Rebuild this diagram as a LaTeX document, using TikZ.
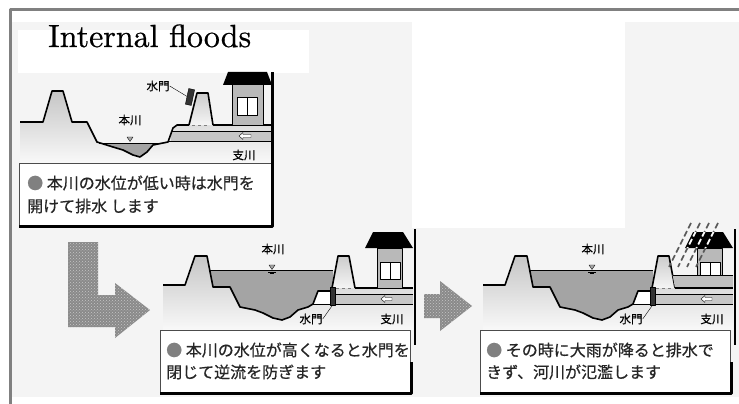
\documentclass[tikz,border=0pt]{standalone}
\usepackage{fontspec}
\usetikzlibrary{patterns}
\newfontfamily\jp{Noto Sans CJK JP}[FakeBold=0.6]
\newfontfamily\titlefont{lmroman10-regular}[Extension=.otf, FakeBold=0.6]

\definecolor{framegray}{HTML}{808080}
\definecolor{paper}{HTML}{F4F4F4}
\definecolor{water}{HTML}{A4A4A4}
\definecolor{arrowgray}{HTML}{8A8A8A}

\newcommand{\highriver}[2]{%
  \shade[top color=gray!45, bottom color=gray!5]
    (163,285) -- (185,285) -- (195,256) -- (207,256) -- (213,287) -- (230,287)
    -- (240,307) -- (255,310) -- (263,313) -- (273,318) -- (282,320) -- (290,317)
    -- (298,310) -- (308,307) -- (313,304) -- (318,291) -- (332,288) -- (413,288)
    -- (413,330) -- (163,330) -- cycle;
  \fill[water] (209,270) -- (333,270) -- (333,291) -- (318,291) -- (313,304) -- (308,307)
    -- (298,310) -- (290,317) -- (282,320) -- (273,318) -- (263,313) -- (255,310)
    -- (240,307) -- (230,287) -- (213,287) -- cycle;
  \draw[thin] (209,270) -- (333,270);
  \fill[white] (313,304) -- (318,291) -- (333,291) -- (333,304) -- cycle;
  \draw[bank] (163,285) -- (185,285) -- (195,256) -- (207,256) -- (213,287) -- (230,287)
    -- (240,307) -- (255,310) -- (263,313) -- (273,318) -- (282,320) -- (290,317)
    -- (298,310) -- (308,307) -- (313,304) -- (318,291) -- (333,291);
  \draw[line width=1pt] (313,304) -- (333,304);
  \shadedraw[top color=gray!40, bottom color=gray!8, bank] (332,288) -- (338,256) -- (349,256) -- (355,288);
  \draw[dashed, thin, gray] (336,288) -- (353,288);
  \draw[bank] (355,288) -- (413,288);
  \fill[gray!45] (335,294) rectangle (413,304);
  \draw[line width=1pt] (335,294) -- (413,294) (335,304) -- (413,304);
  \draw[thin, fill=white] (381,299) -- (385,295.5) -- (385,297.5) -- (392,297.5)
    -- (392,300.5) -- (385,300.5) -- (385,302.5) -- cycle;
  \node[gate, minimum width=5pt, minimum height=18pt] (gate) at (332.5,296) {};
  \fill (373,232) -- (403,232) -- (413,248) -- (365,248) -- cycle;
  \filldraw[fill=gray!55, line width=1pt] (377,248) rectangle (402,288);
  \filldraw[fill=white, line width=1pt] (380,262) rectangle (400,279);
  \draw[line width=1pt] (390,262) -- (390,279);
  \filldraw[thin, fill=gray!70] (269,265) -- (275,265) -- (272,269.5) -- cycle;
  \draw[thin] (268,272) -- (276,272) (270,273.5) -- (274,273.5);
  \node[lbl] (main) at (273,249) {本川};
  \node[lbl] (gatelabel) at (311,319) {水門};
  \node[lbl] (branch) at (392,319) {支川};
  \draw[thin] (gate.south) -- (gatelabel.east);
  \draw[line width=1.5pt] (415,229) -- (415,345);
  \draw[thin, gray!60!black, fill=white] (160,330) rectangle (410,392);
  \draw[line width=3pt] (160,393.5) -- (411.5,393.5) -- (411.5,362);
  \node[note] (noteA) at (166,350) {{\color{gray}●} #1};
  \node[note] (noteB) at (166,372) {#2};
}

\begin{document}
\begin{tikzpicture}[x=1pt, y=-1pt, line join=round,
    bank/.style={line width=1.6pt},
    gate/.style={draw, fill=black!80, inner sep=0pt},
    lbl/.style={inner sep=0pt, font=\jp\fontsize{11.5}{12}\selectfont},
    note/.style={anchor=west, inner sep=0pt, font=\jp\fontsize{16}{17}\selectfont, text=black!85},
    bigarrow/.style={preaction={fill=arrowgray}, pattern=crosshatch dots, pattern color=gray!45},
    rain/.style={line width=1.6pt, dash pattern=on 6pt off 3pt, gray!70!black}]
\useasboundingbox (0,0) rectangle (739,404);
\fill[white] (0,0) rectangle (739,404);
\fill[paper] (12,22) rectangle (739,397);
\fill[white] (412,22) rectangle (625,228);
\draw[framegray, line width=3pt] (10,404) -- (10,10) -- (739,10);

\fill[white] (18,30) rectangle (309,73);
\node[anchor=base west, inner sep=0pt, font=\titlefont\fontsize{32}{40}\selectfont] (title) at (48,47) {Internal floods};

\shade[top color=gray!45, bottom color=gray!5]
  (20,122) -- (43,122) -- (52,91) -- (63,91) -- (72,122) -- (87,122) -- (97,142) -- (113,147)
  -- (123,150) -- (133,155) -- (140,157) -- (147,152) -- (153,145) -- (168,142) -- (173,128)
  -- (177,125) -- (271,125) -- (271,163) -- (20,163) -- cycle;
\fill[water] (99,143) -- (163,143) -- (153,145) -- (147,152) -- (140,157) -- (133,155)
  -- (123,150) -- (113,147) -- cycle;
\draw[thin] (99,143) -- (163,143);
\fill[gray!45] (171,131) rectangle (271,141);
\draw[line width=1pt] (172,131) -- (271,131) (169,141) -- (271,141);
\draw[bank] (20,122) -- (43,122) -- (52,91) -- (63,91) -- (72,122) -- (87,122) -- (97,142)
  -- (113,147) -- (123,150) -- (133,155) -- (140,157) -- (147,152) -- (153,145) -- (168,142)
  -- (173,128) -- (177,125) -- (189,125) (213,125) -- (271,125);
\shadedraw[top color=gray!40, bottom color=gray!8, bank] (189,125) -- (197,93) -- (208,93) -- (213,125);
\draw[dashed, thin, gray] (192,125) -- (210,125);
\draw[thin, fill=white] (239,136) -- (243,132.5) -- (243,134.5) -- (251,134.5)
  -- (251,137.5) -- (243,137.5) -- (243,139.5) -- cycle;
\node[gate, minimum width=6pt, minimum height=16pt, rotate=-12] (gateA) at (190,97) {};
\fill (228,72) -- (267,72) -- (272,85) -- (223,85) -- cycle;
\filldraw[fill=gray!55, line width=1pt] (232,85) rectangle (263,125);
\filldraw[fill=white, line width=1pt] (237,97) rectangle (257,115);
\draw[line width=1pt] (247,97) -- (247,115);
\filldraw[thin, fill=gray!70] (127,137) -- (133,137) -- (130,141.5) -- cycle;
\node[lbl] (mainA) at (130,120) {本川};
\node[lbl] (gateAlabel) at (158,86) {水門};
\node[lbl] (branchA) at (244,155) {支川};
\draw[thin] (gateAlabel.east) -- (gateA.west);
\draw[thin, gray!60!black, fill=white] (19,163) rectangle (271,225);
\draw[line width=3pt] (19,226.5) -- (272.5,226.5) -- (272.5,72);
\node[note] (lowA) at (27,183) {{\color{gray}●} 本川の水位が低い時は水門を};
\node[note] (lowB) at (27,206) {開けて排水 します};

\fill[bigarrow] (68,242) -- (98,242) -- (98,295) -- (115,295) -- (115,283) -- (150,310)
  -- (115,338) -- (115,327) -- (68,327) -- cycle;
\fill[bigarrow] (424,294) -- (440,294) -- (440,281) -- (472,306) -- (440,331) -- (440,318)
  -- (424,318) -- cycle;

\begin{scope}[name prefix=mid-]
  \highriver{本川の水位が高くなると水門を}{閉じて逆流を防ぎます}
\end{scope}

\begin{scope}[xshift=320pt, name prefix=flood-]
  \highriver{その時に大雨が降ると排水で}{きず、河川が氾濫します}
  \fill[gray!50] (352.6,275) -- (413,275) -- (413,288) -- (355,288) -- cycle;
  \draw[line width=1pt] (352.6,275) -- (413,275);
  \draw[bank] (355,288) -- (413,288);
  \foreach \x in {371,380,389,398}
    \draw[rain] (\x,223) -- ++(-22,44);
  \begin{scope}
    \clip (373,232) -- (403,232) -- (413,248) -- (365,248) -- cycle;
    \foreach \x in {371,380,389,398}
      \draw[rain, white] (\x,223) -- ++(-22,44);
  \end{scope}
\end{scope}
\end{tikzpicture}
\end{document}
